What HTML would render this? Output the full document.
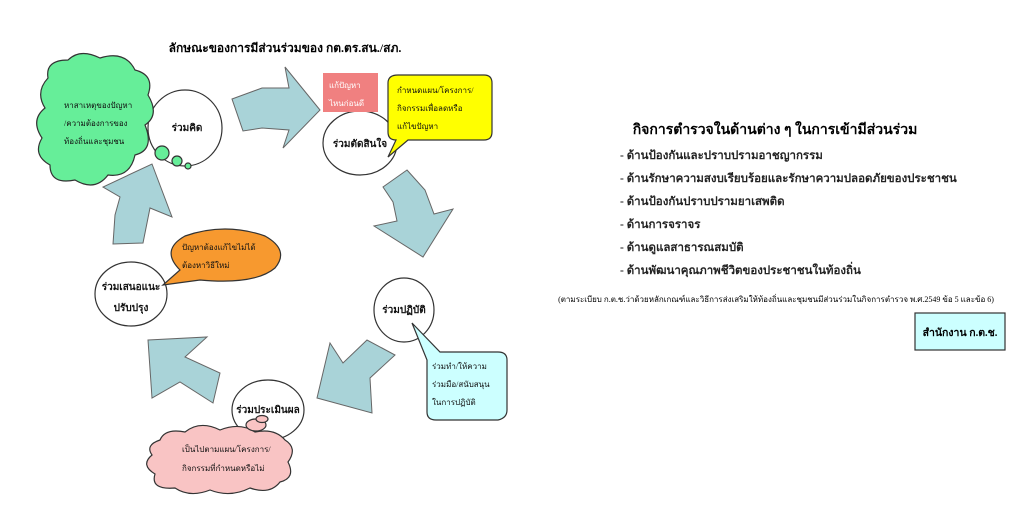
<!DOCTYPE html>
<html><head><meta charset="utf-8"><style>
html,body{margin:0;padding:0;background:#fff;}
svg{display:block;font-family:"Liberation Serif","DejaVu Serif",serif;}
.b{font-weight:bold;}
</style></head><body>
<svg width="1024" height="506" viewBox="0 0 1024 506" xmlns="http://www.w3.org/2000/svg">
<g fill="#a9d3d8" stroke="#666" stroke-width="1">
<polygon points="232,99 262,88 289,88 285,67 320,110 283,148 289,130 262,128 243,131"/>
<polygon points="407,170 425,190 434,214 453,209 423,257 374,226 397,221 393,202 383,187"/>
<polygon points="395,355 370,378 372,413 317,398 330,343 343,363 367,340"/>
<polygon points="148,340 207,337 185,357 220,373 213,403 180,382 152,398"/>
<polygon points="113,244 115,215 120,197 103,187 152,164 172,217 150,208 143,243"/>
</g>
<g fill="#fff" stroke="#333" stroke-width="1.2">
<ellipse cx="185" cy="128" rx="37" ry="38"/>
<ellipse cx="360" cy="143" rx="37" ry="32"/>
<ellipse cx="404" cy="310" rx="30" ry="32"/>
<ellipse cx="268" cy="410" rx="36" ry="30"/>
<ellipse cx="131" cy="294" rx="36" ry="32"/>
</g>
<g fill="#66ee99" stroke="#333" stroke-width="1.2">
<path d="M48,78 Q45,60 68,60 Q80,48 100,58 Q125,50 135,70 Q155,75 148,95 Q160,115 145,125 Q155,150 135,155 Q130,178 108,175 Q95,192 75,180 Q50,185 50,165 Q32,155 42,138 Q30,120 45,108 Q35,92 48,78Z"/>
<circle cx="162" cy="153" r="7"/><circle cx="177" cy="161" r="5"/><circle cx="188" cy="166" r="3"/>
</g>
<rect x="323" y="73" width="55" height="39" fill="#f08080"/>
<path d="M398,75 H484 Q492,75 492,83 V132 Q492,140 484,140 H408 L388,157 L396,140 Q388,140 388,132 V83 Q388,75 398,75Z" fill="#ffff00" stroke="#333" stroke-width="1.2"/>
<path d="M412,323 L440,352 H498 Q507,352 507,360 V410 Q507,418 498,420 L436,420 Q427,420 427,412 V360 Z" fill="#ccffff" stroke="#333" stroke-width="1.2"/>
<path d="M163,285 L180,270 Q160,250 185,236 Q225,222 265,236 Q290,250 275,268 Q255,285 200,280 Z" fill="#f7992f" stroke="#333" stroke-width="1.2"/>
<g fill="#f9c4c4" stroke="#333" stroke-width="1.2">
<path d="M160,440 Q165,428 185,432 Q200,420 220,430 Q240,422 255,432 Q275,428 285,440 Q298,448 288,462 Q296,478 280,482 Q270,495 250,488 Q230,498 210,490 Q190,498 175,488 Q150,490 155,474 Q140,465 152,455 Q145,445 160,440Z"/>
<ellipse cx="256" cy="425" rx="10" ry="6"/><ellipse cx="262" cy="419" rx="6" ry="3.5"/>
</g>
<g font-size="8" fill="#111">
<text x="64" y="108">หาสาเหตุของปัญหา</text>
<text x="64" y="126">/ความต้องการของ</text>
<text x="64" y="144">ท้องถิ่นและชุมชน</text>
<text x="329" y="88" fill="#fff">แก้ปัญหา</text>
<text x="329" y="106" fill="#fff">ไหนก่อนดี</text>
<text x="397" y="93">กำหนดแผน/โครงการ/</text>
<text x="397" y="111">กิจกรรมเพื่อลดหรือ</text>
<text x="397" y="129">แก้ไขปัญหา</text>
<text x="432" y="369">ร่วมทำ/ให้ความ</text>
<text x="432" y="387">ร่วมมือ/สนับสนุน</text>
<text x="432" y="405">ในการปฏิบัติ</text>
<text x="182" y="250">ปัญหาต้องแก้ไขไม่ได้</text>
<text x="182" y="268">ต้องหาวิธีใหม่</text>
<text x="182" y="452">เป็นไปตามแผน/โครงการ/</text>
<text x="182" y="471">กิจกรรมที่กำหนดหรือไม่</text>
</g>
<g font-size="10" class="b" fill="#111" text-anchor="middle">
<text x="187" y="131">ร่วมคิด</text>
<text x="360" y="147">ร่วมตัดสินใจ</text>
<text x="404" y="313">ร่วมปฏิบัติ</text>
<text x="268" y="413">ร่วมประเมินผล</text>
<text x="131" y="290">ร่วมเสนอแนะ</text>
<text x="131" y="311">ปรับปรุง</text>
</g>
<text x="285" y="52" font-size="12" class="b" text-anchor="middle">ลักษณะของการมีส่วนร่วมของ กต.ตร.สน./สภ.</text>
<text x="775" y="134" font-size="14" class="b" text-anchor="middle">กิจการตำรวจในด้านต่าง ๆ ในการเข้ามีส่วนร่วม</text>
<g font-size="11.5" class="b" fill="#222">
<text x="620" y="159">- ด้านป้องกันและปราบปรามอาชญากรรม</text>
<text x="620" y="182">- ด้านรักษาความสงบเรียบร้อยและรักษาความปลอดภัยของประชาชน</text>
<text x="620" y="205">- ด้านป้องกันปราบปรามยาเสพติด</text>
<text x="620" y="228">- ด้านการจราจร</text>
<text x="620" y="251">- ด้านดูแลสาธารณสมบัติ</text>
<text x="620" y="274">- ด้านพัฒนาคุณภาพชีวิตของประชาชนในท้องถิ่น</text>
</g>
<text x="776" y="302" font-size="8" text-anchor="middle">(ตามระเบียบ ก.ต.ช.ว่าด้วยหลักเกณฑ์และวิธีการส่งเสริมให้ท้องถิ่นและชุมชนมีส่วนร่วมในกิจการตำรวจ พ.ศ.2549 ข้อ 5 และข้อ 6)</text>
<rect x="915" y="313" width="90" height="37" fill="#ccffff" stroke="#333" stroke-width="1.2"/>
<text x="960" y="336" font-size="10.5" class="b" text-anchor="middle">สำนักงาน ก.ต.ช.</text>
</svg>
</body></html>
